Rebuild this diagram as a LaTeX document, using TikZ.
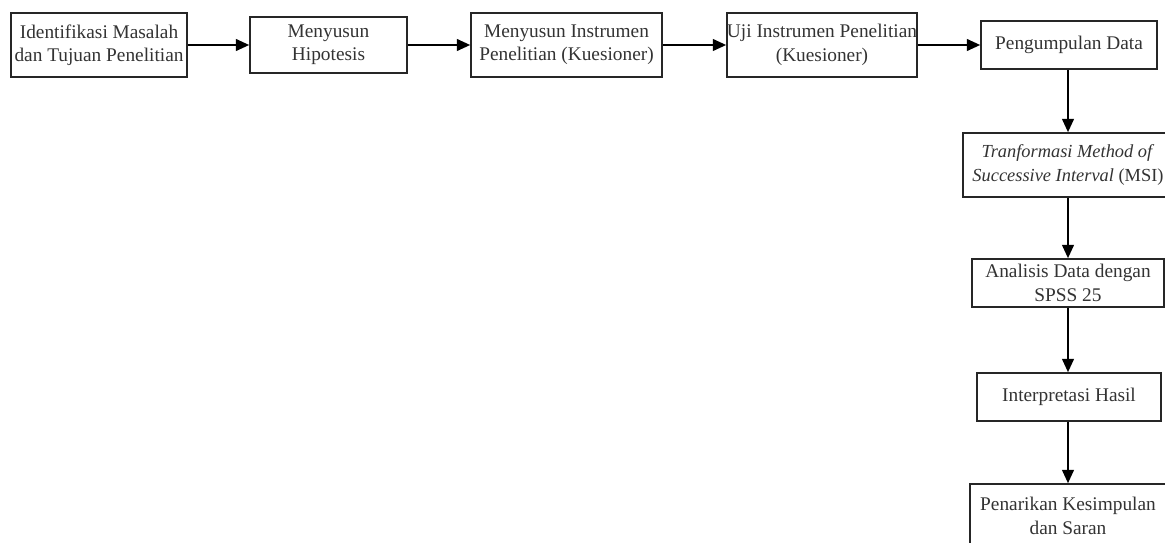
\documentclass[tikz,border=0pt]{standalone}
\usepackage{fontspec}
\setmainfont{Liberation Serif}
\usetikzlibrary{arrows.meta}

\begin{document}
\begin{tikzpicture}[x=0.75pt,y=-0.75pt,->,>={Triangle[length=10pt,width=9pt]},line width=1pt]
  \def\px{0.75pt}

\tikzstyle{box}=[draw,line width=1.3pt,black!85,text=black!80,align=center,inner sep=0pt,
  font=\fontsize{14.5pt}{17.5pt}\selectfont]
\useasboundingbox (0,0) rectangle (1165,543);
\clip (0,0) rectangle (1165,543);
% baris atas
\node[box,minimum width=176*\px,minimum height=64*\px] (P1) at (99,45) {Identifikasi Masalah\\dan Tujuan Penelitian};
\node[box,minimum width=157*\px,minimum height=56*\px] (P2) at (328.5,45) {Menyusun\\Hipotesis};
\draw (P1) -- (P2);
\node[box,minimum width=191*\px,minimum height=64*\px] (P3) at (566.5,45) {Menyusun Instrumen\\Penelitian (Kuesioner)};
\draw (P2) -- (P3);
\node[box,minimum width=190*\px,minimum height=64*\px] (P4) at (822,45) {Uji Instrumen Penelitian\\(Kuesioner)};
\draw (P3) -- (P4);
\node[box,minimum width=176*\px,minimum height=48*\px] (P5) at (1069,45) {Pengumpulan Data};
\draw (P4) -- (P5);
% kolom kanan
\node[box,minimum width=210*\px,minimum height=64*\px,font=\fontsize{13.8pt}{17.5pt}\selectfont] (P6) at (1068,165) {\textit{Tranformasi Method of}\\\textit{Successive Interval} (MSI)};
\draw (P5.south -| P6) -- (P6);
\node[box,minimum width=192*\px,minimum height=48*\px] (P7) at (1068,283) {Analisis Data dengan\\SPSS 25};
\draw (P6) -- (P7);
\node[box,minimum width=184*\px,minimum height=48*\px] (P8) at (1069,397) {Interpretasi Hasil};
\draw (P7.south) -- (P8.north -| P7);
\node[box,minimum width=196*\px,minimum height=64*\px] (P9) at (1068,516) {Penarikan Kesimpulan\\dan Saran};
\draw (P8.south -| P9) -- (P9);
\end{tikzpicture}
\end{document}
